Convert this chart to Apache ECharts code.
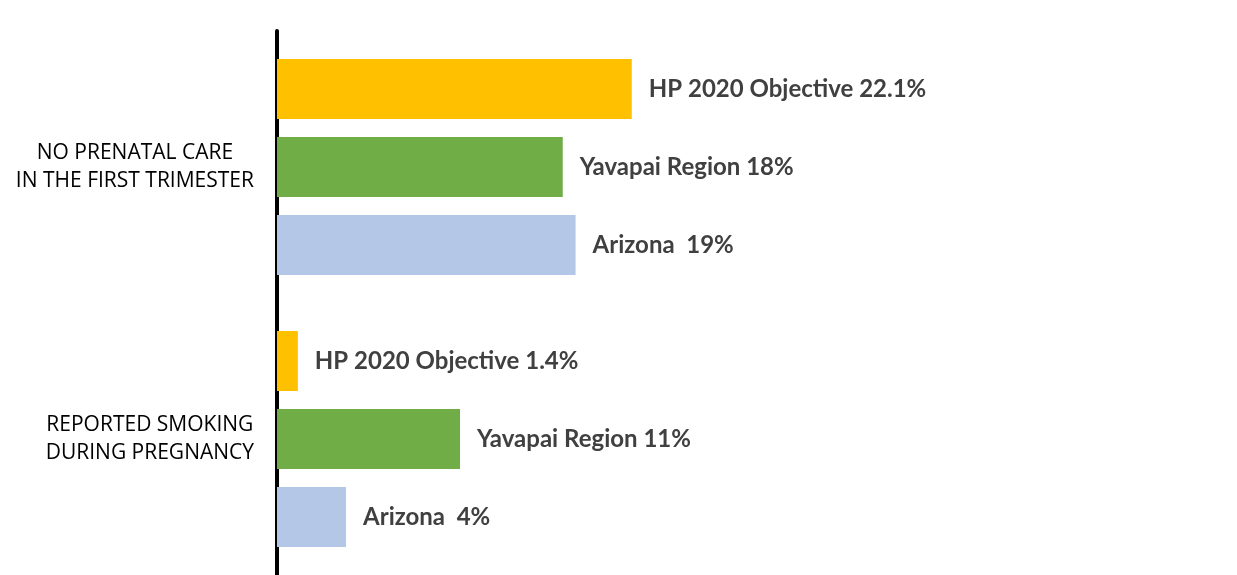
<!DOCTYPE html>
<html>
<head>
<meta charset="utf-8">
<script src="https://cdn.jsdelivr.net/npm/echarts@6/dist/echarts.min.js"></script>
<style>
html,body{margin:0;padding:0;background:#fff;}
#c{width:1237px;height:575px;}
</style>
</head>
<body>
<div id="c"></div>
<script>
const categories = [
  ['NO PRENATAL CARE', 'IN THE FIRST TRIMESTER'],
  ['REPORTED SMOKING', 'DURING PREGNANCY']
];
const seriesNames = ['HP 2020 Objective', 'Yavapai Region', 'Arizona'];
const hpValues = [22.1, 1.3];
const yavapaiValues = [17.8, 11.4];
const arizonaValues = [18.6, 4.3];
const hpLabels = ['HP 2020 Objective 22.1%', 'HP 2020 Objective 1.4%'];
const yavapaiLabels = ['Yavapai Region 18%', 'Yavapai Region 11%'];
const arizonaLabels = ['Arizona  19%', 'Arizona  4%'];
const colors = ['#FFC000', '#70AD47', '#B4C7E7'];

const labelFont = 'Lato';
function mkSeries(name, values, labels, color) {
  return {
    name: name,
    type: 'bar',
    barWidth: 60,
    barGap: '30%',
    data: values,
    itemStyle: { color: color },
    label: {
      show: true,
      position: 'right',
      distance: 17,
      formatter: p => labels[p.dataIndex],
      color: '#404040',
      fontWeight: 'bold',
      fontSize: 24,
      fontFamily: labelFont
    }
  };
}

const chart = echarts.init(document.getElementById('c'), null, { renderer: 'canvas' });
chart.setOption({
  animation: false,
  grid: { left: 277, top: 31, height: 547, right: 0 },
  xAxis: {
    type: 'value', min: 0, max: 59.8,
    axisLine: { show: false }, axisTick: { show: false },
    axisLabel: { show: false }, splitLine: { show: false }
  },
  yAxis: {
    type: 'category',
    inverse: true,
    data: categories.map(c => c.join('\n')),
    axisLine: { show: true, lineStyle: { color: '#000', width: 4 } },
    axisTick: { show: false },
    axisLabel: {
      margin: 23,
      align: 'right',
      formatter: v => v.split('\n').map(s => '{c|' + s + '}').join('\n'),
      rich: {
        c: { align: 'center', fontSize: 21, lineHeight: 28, color: '#000', fontFamily: 'Open Sans' }
      }
    }
  },
  series: [
    mkSeries(seriesNames[0], hpValues, hpLabels, colors[0]),
    mkSeries(seriesNames[1], yavapaiValues, yavapaiLabels, colors[1]),
    mkSeries(seriesNames[2], arizonaValues, arizonaLabels, colors[2])
  ]
});
</script>
</body>
</html>
